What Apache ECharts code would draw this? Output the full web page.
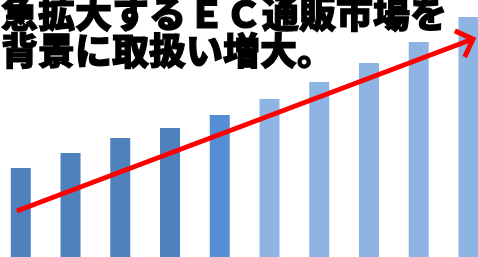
<!DOCTYPE html>
<html>
<head>
<meta charset="utf-8">
<title>EC通販市場</title>
<script src="https://cdn.jsdelivr.net/npm/echarts@6/dist/echarts.min.js"></script>
<style>
  html, body { margin: 0; padding: 0; background: #fff; }
  #chart { width: 478px; height: 257px; }
</style>
</head>
<body>
<div id="chart"></div>
<script>
// bar heights (relative units)
var categories = ['1', '2', '3', '4', '5', '6', '7', '8', '9', '10'];
var barValues = [89, 104, 119, 129, 142, 158, 175, 194, 215, 240];
var barColors = ['#4f81bd', '#4f81bd', '#4f81bd', '#4f81bd', '#558ed5',
                 '#8eb4e3', '#8eb4e3', '#8eb4e3', '#8eb4e3', '#8eb4e3'];
// trend arrow, in category-index / value units
var arrowX = [-0.08, 9.09];
var arrowY = [46, 218];

var chart = echarts.init(document.getElementById('chart'));

// bars sit on a value x axis so the last bar can run off the right edge
var barData = categories.map(function (c, i) {
	return { name: c, value: [i, barValues[i]], itemStyle: { color: barColors[i] } };
});
var arrowData = arrowX.map(function (x, i) {
	var p = { value: [x, arrowY[i]] };
	if (i === 0) p.symbol = 'none';
	return p;
});

var txt = { fontSize: 37, lineHeight: 37, fontWeight: 900, color: '#000',
	fontFamily: 'Noto Sans CJK JP', textBorderColor: '#000', textBorderWidth: 1.2 };

chart.setOption({
	animation: false,
	title: {
		text: '{a|急拡大する}{b|ＥＣ}{a|通販市場を}\n{a|背景に取扱い増大。}',
		left: 1,
		top: -5,
		padding: 0,
		textStyle: {
			rich: {
				a: txt,
				b: Object.assign({}, txt, { padding: [0, 0, 0, 2] })
			}
		}
	},
	grid: { left: 0, right: 0, top: 0, bottom: 0 },
	xAxis: { type: 'value', min: -0.418, max: 9.192, show: false },
	yAxis: { type: 'value', min: 0, max: 257, show: false },
	series: [
		{
			type: 'bar',
			barWidth: 20,
			data: barData
		},
		{
			type: 'line',
			data: arrowData,
			z: 5,
			lineStyle: { color: '#ff0000', width: 5 },
			symbol: 'path://M0,0L10,10L0,20M20,10L20,10',
			symbolSize: 28,
			symbolRotate: 20.7,
			itemStyle: { color: 'transparent', borderColor: '#ff0000', borderWidth: 5 }
		}
	]
});
</script>
</body>
</html>
